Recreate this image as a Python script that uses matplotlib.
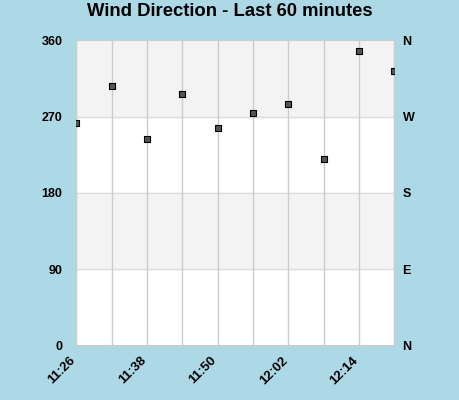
import matplotlib
matplotlib.use('Agg')
import matplotlib.pyplot as plt
import matplotlib.transforms as mtrans

BG = '#add8e6'
BAND = '#f3f3f3'
GRID = '#cccccc'

times = ['11:26', '11:32', '11:38', '11:44', '11:50',
         '11:56', '12:02', '12:08', '12:14', '12:20']
direction = [262, 306, 243, 297, 257, 274, 285, 220, 347, 324]
deg_ticks = [0, 90, 180, 270, 360]
compass = ['N', 'E', 'S', 'W', 'N']

plt.rcParams['font.family'] = ['Liberation Sans', 'DejaVu Sans']

mins = [int(t[:2]) * 60 + int(t[3:]) for t in times]

fig = plt.figure(figsize=(4.6, 4.0), dpi=100)
fig.patch.set_facecolor(BG)
ax = fig.add_axes([0.166, 0.137, 0.691, 0.762])
ax.set_facecolor('white')

# alternating bands
for lo in (90, 270):
    ax.axhspan(lo, lo + 90, color=BAND, zorder=0)
for d in deg_ticks[1:-1]:
    ax.axhline(d, color='#dddddd', lw=1, zorder=1)
for m in mins:
    ax.axvline(m, color=GRID, lw=1, zorder=1)

ax.scatter(mins, direction, marker='s', s=14, c='#555555',
           edgecolors='black', linewidths=0.8, zorder=3)

ax.set_xlim(mins[0], mins[-1])
ax.set_ylim(0, 360)
ax.set_yticks(deg_ticks)
ax.set_yticklabels([str(d) for d in deg_ticks], fontsize=9, weight='bold')
ax.set_xticks(mins)
ax.set_xticklabels([t if i % 2 == 0 and i < len(times) - 1 else ''
                    for i, t in enumerate(times)],
                   fontsize=9.5, weight='bold', rotation=45,
                   ha='right', va='top', rotation_mode='anchor')
ax.tick_params(length=0, pad=10)
ax.tick_params(axis='x', pad=6)
shift = mtrans.ScaledTranslation(-7 / 100, -1 / 100, fig.dpi_scale_trans)
for lab in ax.get_xticklabels():
    lab.set_transform(lab.get_transform() + shift)
for s in ax.spines.values():
    s.set_edgecolor('#cccccc')

ax2 = ax.twinx()
ax2.set_ylim(0, 360)
ax2.set_yticks(deg_ticks)
ax2.set_yticklabels(compass, fontsize=9, weight='bold')
ax2.tick_params(length=0, pad=6)
for s in ax2.spines.values():
    s.set_visible(False)

fig.text(0.5, 0.972, 'Wind Direction - Last 60 minutes', ha='center',
         va='center', fontsize=13.3, weight='bold')

fig.savefig('out.png', dpi=100, facecolor=BG)
